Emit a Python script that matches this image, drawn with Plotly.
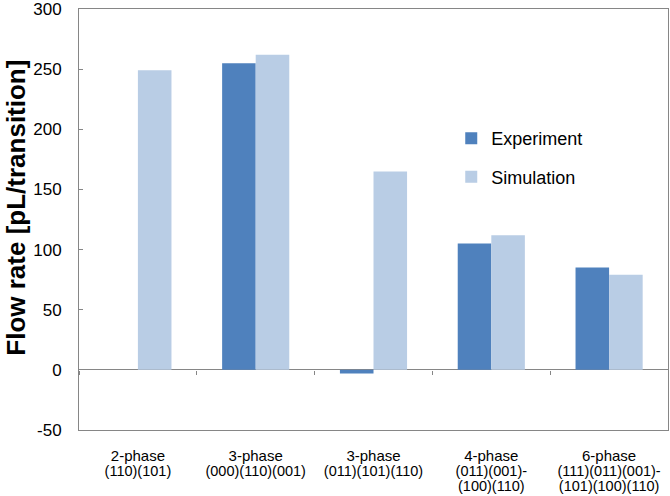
import plotly.graph_objects as go

categories = ["2-phase", "3-phase A", "3-phase B", "4-phase", "6-phase"]
tick_main = ["2-phase", "3-phase", "3-phase", "4-phase", "6-phase"]
tick_sub = ["(110)(101)", "(000)(110)(001)", "(011)(101)(110)",
            "(011)(001)-<br>(100)(110)", "(111)(011)(001)-<br>(101)(100)(110)"]
experiment = [None, 255, -3, 105, 85]
simulation = [249, 262, 165, 112, 79]
y_ticks = [-50, 0, 50, 100, 150, 200, 250, 300]
y_tick_text = ["-50", "0", "50", "100", "150", "200", "250", "300"]

tick_text = [f"<span style='font-size:15px'>{m}</span><br><span style='font-size:14.5px'>{s}</span>"
             for m, s in zip(tick_main, tick_sub)]

fig = go.Figure()
fig.add_trace(go.Bar(name="Experiment", x=categories, y=experiment,
                     marker=dict(color="#4F81BD", line=dict(width=0)), legendgroup="a"))
fig.add_trace(go.Bar(name="Simulation", x=categories, y=simulation,
                     marker=dict(color="#B9CDE5", line=dict(width=0)), legendgroup="b"))
# invisible helper trace for the category tick marks on the zero line
fig.add_trace(go.Scatter(x=categories, y=[0]*len(categories), xaxis="x2", mode="markers",
                         marker=dict(opacity=0), showlegend=False, hoverinfo="skip"))

font = "Liberation Sans, Arial, sans-serif"
fig.update_layout(
    width=670, height=496,
    margin=dict(l=79, r=2, t=9, b=66),
    paper_bgcolor="white", plot_bgcolor="white",
    barmode="group", bargap=0.43, bargroupgap=0,
    font=dict(family=font, color="black"),
    showlegend=True,
    legend=dict(x=0.632, y=0.736, xanchor="left", yanchor="top",
                font=dict(size=18, family=font), tracegroupgap=12,
                traceorder="grouped", bgcolor="rgba(0,0,0,0)"),
    xaxis=dict(type="category", tickmode="array", tickvals=categories, ticktext=tick_text,
               tickfont=dict(size=11.5, family=font), showline=True, mirror=True,
               linecolor="#868686", linewidth=1, ticks="outside", ticklen=16,
               tickcolor="rgba(0,0,0,0)", showgrid=False, automargin=False,
               ticklabeloverflow="allow"),
    xaxis2=dict(type="category", overlaying="x", anchor="free", position=50/350,
                matches="x", showline=False, ticks="outside", ticklen=4,
                tickcolor="#868686", tickson="boundaries", showticklabels=False,
                showgrid=False),
    yaxis=dict(range=[-50, 300], tickvals=y_ticks, ticktext=y_tick_text,
               tickfont=dict(size=17, family=font), automargin=False,
               showline=True, mirror=True, linecolor="#868686", linewidth=1,
               ticks="inside", ticklen=4, tickcolor="#868686", showgrid=False,
               ticklabelstandoff=13, ticklabeloverflow="allow",
               zeroline=True, zerolinecolor="#868686", zerolinewidth=1),
    annotations=[dict(text="<b>Flow rate [pL/transition]</b>", textangle=-90,
                      xref="paper", yref="paper", x=-0.106, y=0.527,
                      xanchor="center", yanchor="middle", showarrow=False,
                      font=dict(size=26, family=font))],
)

fig.write_html("out.html", config={"displayModeBar": False},
               post_script="document.body.style.margin='0';")
